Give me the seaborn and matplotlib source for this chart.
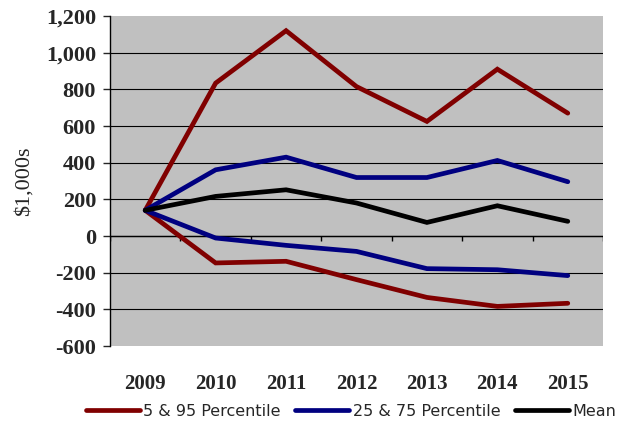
import numpy as np
import pandas as pd
import matplotlib
matplotlib.use("Agg")
import matplotlib.pyplot as plt
import seaborn as sns

# =========================================
# DATA
# =========================================

years = ["2009", "2010", "2011", "2012", "2013", "2014", "2015"]

p95 = [140, 834, 1120, 815, 625, 910, 670]
p5 = [140, -147, -138, -238, -335, -384, -367]
p75 = [140, 361, 430, 319, 319, 412, 296]
p25 = [140, -11, -51, -84, -178, -184, -216]
mean = [140, 216, 252, 180, 74, 165, 80]

red = "#800000"
blue = "#000080"
black = "#000000"

# =========================================
# FIGURE
# =========================================

sns.set_style("white")
plt.rcParams["font.family"] = "serif"
plt.rcParams["font.serif"] = ["Liberation Serif", "DejaVu Serif"]

fig = plt.figure(figsize=(6.21, 4.21), dpi=100)
ax = fig.add_axes([110 / 621, 75 / 421, 493 / 621, 330 / 421])
ax.set_facecolor("#C0C0C0")

x = np.arange(len(years))

series = [
    (p95, red, "5 & 95 Percentile"),
    (p5, red, None),
    (p75, blue, "25 & 75 Percentile"),
    (p25, blue, None),
    (mean, black, "Mean"),
]

# gridlines
for v in range(-400, 1200, 200):
    ax.axhline(v, color="black", lw=0.8, zorder=1)

for vals, col, lab in series:
    df = pd.DataFrame({"x": x, "y": vals})
    sns.lineplot(data=df, x="x", y="y", color=col, lw=3.4, ax=ax,
                 label=lab, legend=False, zorder=3,
                 solid_capstyle="round", solid_joinstyle="miter")

# category axis at zero with boundary tick marks
ax.axhline(0, color="black", lw=1.0, zorder=2)
ax.vlines(np.arange(len(years) + 1) - 0.5, -28, 0, color="black", lw=1.0, zorder=2)

ax.set_xlim(-0.5, len(years) - 0.5)
ax.set_ylim(-600, 1200)
ax.set_yticks(range(-600, 1201, 200))
ax.set_yticklabels([f"{v:,}" for v in range(-600, 1201, 200)])
ax.set_xticks(x)
ax.set_xticklabels(years)

ax.tick_params(axis="x", length=0, pad=20)
ax.tick_params(axis="y", length=5, width=1, direction="out", left=True, pad=5)

for lbl in ax.get_xticklabels():
    lbl.set_fontweight("bold")
    lbl.set_fontsize(15)
for lbl in ax.get_yticklabels():
    lbl.set_fontweight("bold")
    lbl.set_fontsize(16)

ax.set_xlabel("")
ax.set_ylabel("$1,000s", fontsize=16, labelpad=9)

for s in ["top", "right", "bottom"]:
    ax.spines[s].set_visible(False)
ax.spines["left"].set_color("black")
ax.spines["left"].set_linewidth(1.0)

handles, labels = ax.get_legend_handles_labels()
fig.legend(handles, labels, loc="center", bbox_to_anchor=(0.565, 1 - 411 / 421),
           ncol=3, frameon=False, prop={"family": "DejaVu Sans", "size": 11.5},
           handlelength=3.4, handletextpad=0.2, columnspacing=0.9)

fig.savefig("out.png", dpi=100)
